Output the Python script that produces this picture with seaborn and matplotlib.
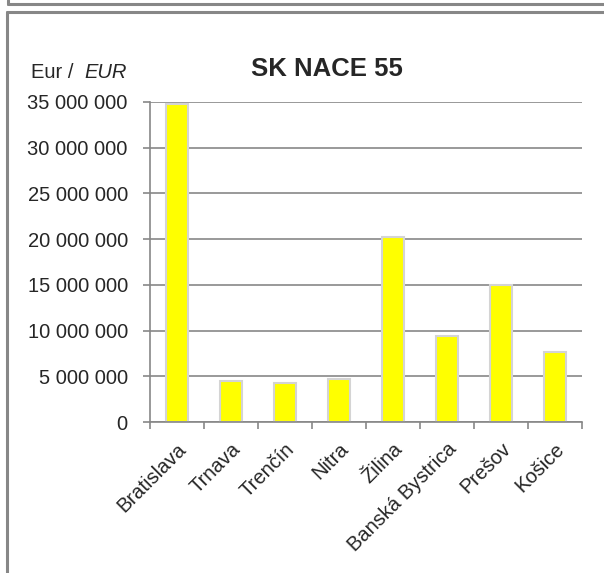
import matplotlib
matplotlib.use("Agg")
import matplotlib.pyplot as plt
import seaborn as sns
import pandas as pd
from matplotlib.lines import Line2D
from matplotlib.ticker import FuncFormatter, MultipleLocator

# data
regions = ["Bratislava", "Trnava", "Trenčín", "Nitra", "Žilina",
           "Banská Bystrica", "Prešov", "Košice"]
values = [34800000, 4520000, 4230000, 4670000, 20250000, 9400000, 14950000, 7630000]

df = pd.DataFrame({"region": regions, "value": values})

sns.set_style("white")
plt.rcParams["font.family"] = ["Liberation Sans", "DejaVu Sans"]

fig = plt.figure(figsize=(6.04, 5.73), dpi=100)
ax = fig.add_axes([150 / 604, 1 - 422 / 573, 432 / 604, 320 / 573])

sns.barplot(data=df, x="region", y="value", color="#FFFF00", width=0.4,
            edgecolor="#D4D4D4", linewidth=1.5, saturation=1, ax=ax)

grey = "#878787"
ax.set_ylim(0, 35000000)
ax.set_xlim(-0.5, len(regions) - 0.5)
ax.yaxis.set_major_locator(MultipleLocator(5000000))
ax.yaxis.set_major_formatter(FuncFormatter(lambda v, p: f"{int(v):,}".replace(",", " ")))
ax.grid(axis="y", color=grey, linewidth=1.2)
ax.set_axisbelow(True)

for s in ["top", "right"]:
    ax.spines[s].set_visible(False)
for s in ["left", "bottom"]:
    ax.spines[s].set_color(grey)
    ax.spines[s].set_linewidth(1.2)

ax.tick_params(axis="y", left=True, length=5, width=1.2, color=grey,
               labelsize=14.5, pad=11)
ax.set_xticks(range(len(regions)))
ax.set_xticklabels(regions, rotation=45, ha="right", rotation_mode="anchor", fontsize=14.5)
ax.tick_params(axis="x", bottom=False, pad=9)
# boundary ticks between categories
ax.set_xticks([i - 0.5 for i in range(len(regions) + 1)], minor=True)
ax.tick_params(axis="x", which="minor", bottom=True, length=5, width=1.2, color=grey)

ax.set_xlabel("")
ax.set_ylabel("")

fig.text(327 / 604, 1 - 69 / 573, "SK NACE 55", ha="center", va="center",
         fontsize=18.5, fontweight="bold")
fig.text(31 / 604, 1 - 72 / 573, "Eur /", ha="left", va="center", fontsize=14.5)
fig.text(127 / 604, 1 - 72 / 573, "EUR", ha="right", va="center", fontsize=14.5, style="italic")

# outer frames
fig.add_artist(Line2D([8 / 604, 1], [1 - 4 / 573] * 2, color=grey, linewidth=2.2,
                      transform=fig.transFigure))
fig.add_artist(Line2D([8 / 604, 8 / 604], [1, 1 - 4 / 573], color=grey, linewidth=2.2,
                      transform=fig.transFigure))
fig.add_artist(Line2D([7 / 604, 1], [1 - 12 / 573] * 2, color=grey, linewidth=2.2,
                      transform=fig.transFigure))
fig.add_artist(Line2D([7 / 604, 7 / 604], [1 - 12 / 573, 0], color=grey, linewidth=2.2,
                      transform=fig.transFigure))

fig.savefig("out.png", dpi=100)
